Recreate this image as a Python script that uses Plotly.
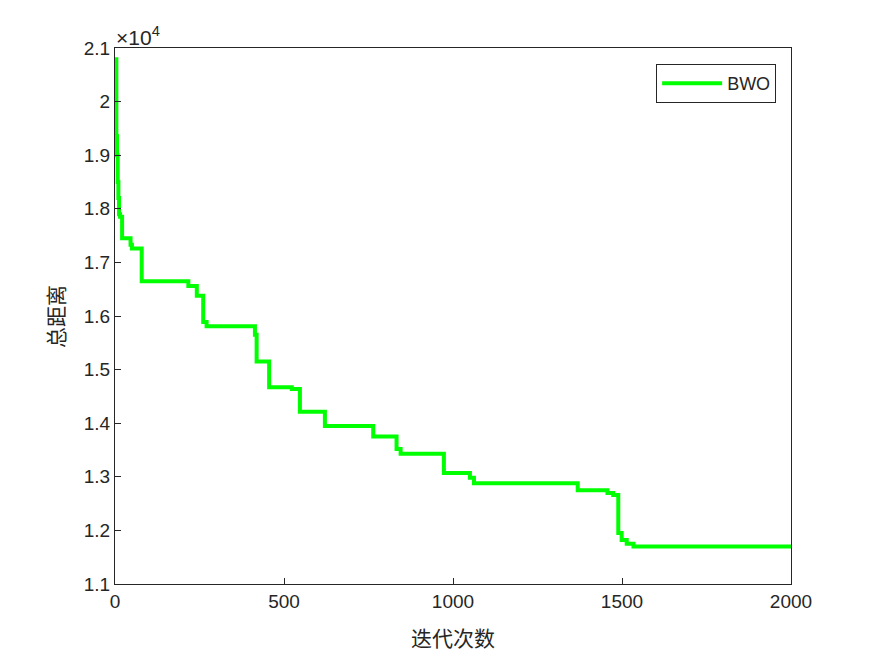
import plotly.graph_objects as go

# Step change points of the convergence curve (iteration, best total distance)
iterations = [0, 4, 6, 8, 10, 12, 15, 21, 46, 50, 79, 217, 242, 261, 271, 414, 419,
              456, 523, 547, 621, 764, 833, 845, 973, 1050, 1062, 1369, 1457, 1474,
              1489, 1499, 1514, 1534, 2000]
distance = [20790, 19360, 19000, 18500, 18200, 17900, 17850, 17450, 17330, 17260,
            16650, 16560, 16380, 15890, 15810, 15650, 15150, 14670, 14640, 14215,
            13950, 13750, 13520, 13430, 13070, 12980, 12880, 12750, 12700, 12660,
            11950, 11820, 11750, 11700, 11700]

series_name = "BWO"
x_label = "迭代次数"
y_label = "总距离"
y_tickvals = [11000, 12000, 13000, 14000, 15000, 16000, 17000, 18000, 19000, 20000, 21000]
y_ticktext = ["1.1", "1.2", "1.3", "1.4", "1.5", "1.6", "1.7", "1.8", "1.9", "2", "2.1"]
x_tickvals = [0, 500, 1000, 1500, 2000]

axis_color = "#262626"
tick_font = dict(family="Liberation Sans, Arial, sans-serif", size=19, color=axis_color)
exp_font = dict(family="Liberation Sans, Arial, sans-serif", size=21, color=axis_color)
cjk_font = dict(family="Noto Sans CJK SC, sans-serif", size=21, color=axis_color)

fig = go.Figure()
fig.add_trace(go.Scatter(
    x=iterations, y=distance, mode="lines", name=series_name,
    line=dict(color="#00FF00", width=4, shape="hv"),
))

fig.update_layout(
    width=875, height=656,
    margin=dict(l=107, r=92, t=40, b=80),
    paper_bgcolor="white", plot_bgcolor="white",
    showlegend=True,
    legend=dict(
        x=0.978, y=0.970, xanchor="right", yanchor="top",
        bgcolor="white", bordercolor=axis_color, borderwidth=1,
        font=dict(family="Liberation Sans, Arial, sans-serif", size=18, color=axis_color),
        itemwidth=60, tracegroupgap=0,
    ),
    xaxis=dict(
        range=[0, 2000], tickvals=x_tickvals, ticks="inside", ticklen=6,
        tickcolor=axis_color, showline=True, linecolor=axis_color, linewidth=1,
        mirror=True, showgrid=False, zeroline=False, tickfont=tick_font,
    ),
    yaxis=dict(
        range=[11000, 21000], tickvals=y_tickvals, ticktext=y_ticktext,
        ticks="inside", ticklen=6, tickcolor=axis_color, showline=True,
        linecolor=axis_color, linewidth=1, mirror=True, showgrid=False,
        zeroline=False, tickfont=tick_font,
    ),
    annotations=[
        dict(text=x_label, xref="paper", yref="paper", x=0.5, y=0,
             xanchor="center", yanchor="middle", yshift=-53, showarrow=False,
             font=cjk_font),
        dict(text=y_label, xref="paper", yref="paper", x=0, y=0.498,
             xanchor="center", yanchor="middle", xshift=-60, textangle=-90,
             showarrow=False, font=cjk_font),
        dict(text="×10<sup>4</sup>", xref="paper", yref="paper", x=0, y=1,
             xanchor="left", yanchor="bottom", xshift=-1, yshift=-3, showarrow=False,
             font=exp_font),
    ],
)

fig.write_html("out.html")
